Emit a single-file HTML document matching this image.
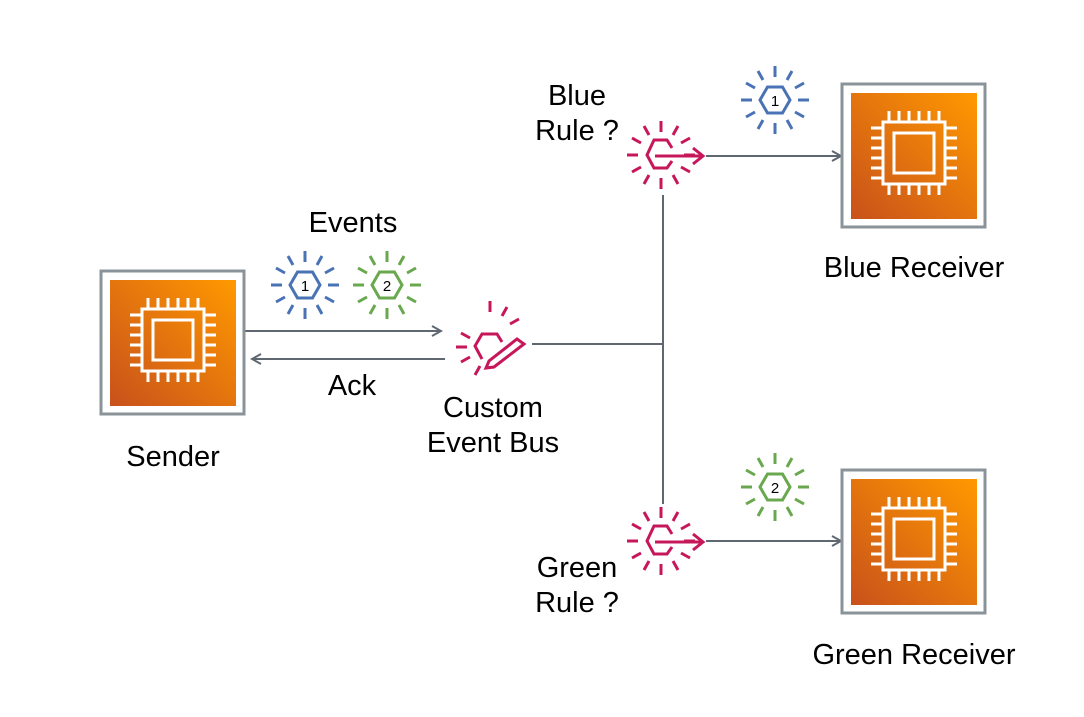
<!DOCTYPE html>
<html><head><meta charset="utf-8"><style>
html,body{margin:0;padding:0;background:#fff;}
svg{display:block;}
text{font-family:"Liberation Sans",Arial,sans-serif;font-size:29px;fill:#000;}
</style></head><body>
<svg width="1084" height="717" viewBox="0 0 1084 717" xmlns="http://www.w3.org/2000/svg">
<defs>
<linearGradient id="og" x1="0" y1="1" x2="1" y2="0">
<stop offset="0" stop-color="#c8511b"/><stop offset="1" stop-color="#ff9900"/>
</linearGradient>
<g id="chip">
<rect x="-72" y="-72" width="143" height="143" fill="#fff" stroke="#8a9399" stroke-width="3"/>
<rect x="-63" y="-63" width="126" height="126" fill="url(#og)"/>
<g fill="none" stroke="#fff" stroke-width="3">
<rect x="-31" y="-34" width="62" height="62"/>
<rect x="-20" y="-23" width="40" height="40"/>
<path d="M-25-34v-11M-15-34v-11M-5-34v-11M5-34v-11M15-34v-11M25-34v-11M-25 28v11M-15 28v11M-5 28v11M5 28v11M15 28v11M25 28v11M-31-28h-12M-31-18h-12M-31-8h-12M-31 2h-12M-31 12h-12M-31 22h-12M31-28h12M31-18h12M31-8h12M31 2h12M31 12h12M31 22h12"/>
</g>
</g>
<g id="rays" stroke-width="3" fill="none">
<path d="M0-23v-11M12-20l5-9M20-12l9-5M23 0h11M20 12l9 5M12 20l5 9M0 23v11M-12 20l-5 9M-20 12l-9 5M-23 0h-11M-20-12l-9-5M-12-20l-5-9"/>
</g>
<g id="hex"><path d="M-15 0L-7.5-13H7.5L15 0L7.5 13H-7.5Z" fill="none" stroke-width="3"/></g>
<marker id="ah" markerWidth="12" markerHeight="12" refX="10" refY="6" orient="auto" markerUnits="userSpaceOnUse">
<path d="M1 1L10 6L1 11" fill="none" stroke="#5f6770" stroke-width="2"/></marker>
</defs>

<g stroke="#5f6770" stroke-width="2" fill="none">
<line x1="244" y1="331" x2="441" y2="331" marker-end="url(#ah)"/>
<line x1="445" y1="359" x2="252" y2="359" marker-end="url(#ah)"/>
<line x1="532" y1="344" x2="663" y2="344"/>
<line x1="663" y1="195" x2="663" y2="504"/>
<line x1="706" y1="156" x2="841" y2="156" marker-end="url(#ah)"/>
<line x1="706" y1="541" x2="841" y2="541" marker-end="url(#ah)"/>
</g>

<use href="#chip" x="173" y="343"/>
<use href="#chip" x="914" y="156"/>
<use href="#chip" x="914" y="542"/>

<g stroke="#4a73b5"><use href="#rays" x="305" y="285"/><use href="#hex" x="305" y="285"/></g>
<g stroke="#6aa84f"><use href="#rays" x="387" y="285"/><use href="#hex" x="387" y="285"/></g>
<g stroke="#4a73b5"><use href="#rays" x="775" y="100"/><use href="#hex" x="775" y="100"/></g>
<g stroke="#6aa84f"><use href="#rays" x="775" y="487"/><use href="#hex" x="775" y="487"/></g>
<g text-anchor="middle">
<text x="305" y="291" style="font-size:15px">1</text>
<text x="387" y="291" style="font-size:15px">2</text>
<text x="775" y="106" style="font-size:15px">1</text>
<text x="775" y="493" style="font-size:15px">2</text>
</g>

<g stroke="#c7175b" fill="none" stroke-width="3">
<use href="#rays" x="661" y="155"/>
<path d="M672 148L667 140H654L647 155L654 168H667L672 161"/>
<path d="M655 156H702M693 148L703 156L693 164"/>
<use href="#rays" x="661" y="541"/>
<path d="M672 534L667 526H654L647 541L654 554H667L672 547"/>
<path d="M655 542H702M693 534L703 542L693 550"/>
<g transform="translate(490,345)">
<path d="M0-33v-11M12-29l5-9M20-21l9-5M-20-7l-9-5M-23 2h-11M-20 12l-9 5M-10 21l-5 9"/>
<path d="M-8 14L-15 1L-8-11H7L12-3"/>
<path d="M27-6L34-1L4 22L-4 23L-1 16Z"/>
</g>
</g>

<g text-anchor="middle">
<text x="353" y="232">Events</text>
<text x="352" y="395">Ack</text>
<text x="173" y="466">Sender</text>
<text x="493" y="417">Custom</text>
<text x="493" y="452">Event Bus</text>
<text x="577" y="105">Blue</text>
<text x="577" y="140">Rule ?</text>
<text x="577" y="577">Green</text>
<text x="577" y="612">Rule ?</text>
<text x="914" y="277">Blue Receiver</text>
<text x="914" y="664">Green Receiver</text>
</g>
</svg>
</body></html>
